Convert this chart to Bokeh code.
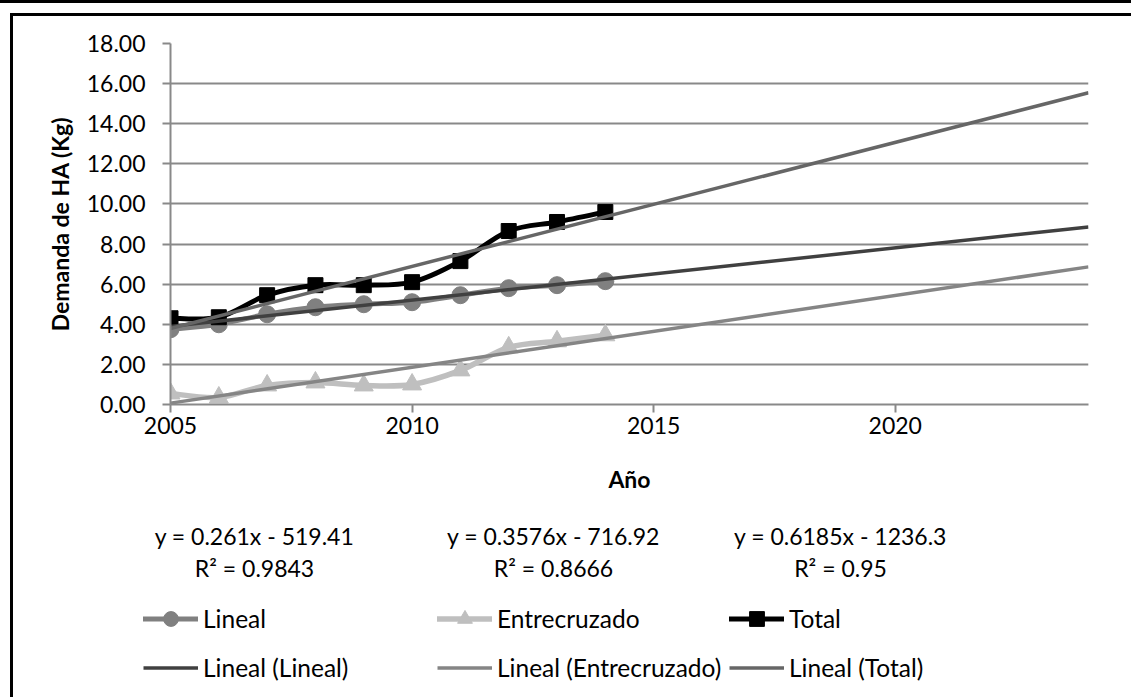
from bokeh.plotting import figure
from bokeh.layouts import column
from bokeh.models import (Range1d, FixedTicker, NumeralTickFormatter, Legend, LegendItem,
                          Label)
from bokeh.embed import file_html
from bokeh.resources import INLINE

# ---- data -------------------------------------------------------------
years = [2005, 2006, 2007, 2008, 2009, 2010, 2011, 2012, 2013, 2014]
lineal = [3.75, 4.00, 4.50, 4.85, 5.00, 5.10, 5.45, 5.80, 5.95, 6.15]
entrecruzado = [0.55, 0.35, 0.95, 1.10, 0.95, 1.00, 1.70, 2.85, 3.15, 3.45]
total = [4.30, 4.35, 5.45, 5.95, 5.95, 6.10, 7.15, 8.65, 9.10, 9.60]

# linear trend coefficients (slope, intercept) and R^2 per series
trend_slopes = [0.261, 0.3576, 0.6185]
trend_intercepts = [-519.41, -716.92, -1236.3]
trend_r2 = ["0.9843", "0.8666", "0.95"]
trend_span = [2005, 2024]

x_ticks = [2005, 2010, 2015, 2020]
y_ticks = [0, 2, 4, 6, 8, 10, 12, 14, 16, 18]

FONT = "Lato"
FS = "23px"
FS_LEGEND = "24.5px"
GRID = "#898989"

# page geometry (window pixels)
PAGE_W, PAGE_H = 1131, 697
INSET_X, INSET_Y = 13, 16          # inside the page frame
CHART_BOTTOM = 500                 # where the notes / legend strip starts

p = figure(width=PAGE_W - INSET_X, height=CHART_BOTTOM - INSET_Y,
           x_range=Range1d(2005, 2024), y_range=Range1d(0, 18),
           output_backend="svg", toolbar_location=None,
           min_border_left=170 - INSET_X, min_border_right=43,
           min_border_top=43 - INSET_Y, min_border_bottom=CHART_BOTTOM - 404)
p.frame_align = False
p.outline_line_color = None
p.background_fill_color = "white"
p.border_fill_color = "white"

# ---- axes & grid -------------------------------------------------------
p.xgrid.visible = False
p.ygrid.grid_line_color = GRID
p.ygrid.grid_line_width = 2
p.ygrid.ticker = FixedTicker(ticks=y_ticks)

for ax in (p.xaxis[0], p.yaxis[0]):
    ax.axis_line_color = GRID
    ax.axis_line_width = 2
    ax.major_tick_line_color = GRID
    ax.major_tick_line_width = 2
    ax.major_tick_out = 8
    ax.major_tick_in = 0
    ax.minor_tick_line_color = None
    ax.major_label_text_font = FONT
    ax.major_label_text_font_size = FS
    ax.major_label_text_color = "black"
    ax.axis_label_text_font = FONT
    ax.axis_label_text_font_size = FS
    ax.axis_label_text_font_style = "bold"
    ax.axis_label_text_color = "black"

p.xaxis.ticker = FixedTicker(ticks=x_ticks)
p.xaxis.major_label_standoff = 4
p.xaxis.axis_label = "Año"
p.xaxis.axis_label_standoff = 28

p.yaxis.ticker = FixedTicker(ticks=y_ticks)
p.yaxis.formatter = NumeralTickFormatter(format="0.00")
p.yaxis.major_label_standoff = 17
p.yaxis.axis_label = "Demanda de HA (Kg)"
p.yaxis.axis_label_standoff = 10


# ---- smoothed series ---------------------------------------------------
def smooth_segments(xs, ys):
    """Cubic Bezier pieces through the points (Catmull-Rom style)."""
    n = len(xs)
    seg = dict(x0=[], y0=[], x1=[], y1=[], cx0=[], cy0=[], cx1=[], cy1=[])
    for i in range(n - 1):
        a = max(i - 1, 0)
        d = min(i + 2, n - 1)
        seg["x0"].append(xs[i]); seg["y0"].append(ys[i])
        seg["x1"].append(xs[i + 1]); seg["y1"].append(ys[i + 1])
        seg["cx0"].append(xs[i] + (xs[i + 1] - xs[a]) / 6)
        seg["cy0"].append(ys[i] + (ys[i + 1] - ys[a]) / 6)
        seg["cx1"].append(xs[i + 1] - (xs[d] - xs[i]) / 6)
        seg["cy1"].append(ys[i + 1] - (ys[d] - ys[i]) / 6)
    return seg


series = [
    ("Lineal", lineal, "#808080", "circle", 17, 5),
    ("Entrecruzado", entrecruzado, "#bfbfbf", "triangle", 19, 5.5),
    ("Total", total, "#000000", "square", 15, 5),
]

for name, vals, color, marker, size, lw in series:
    s = smooth_segments(years, vals)
    p.bezier(x0="x0", y0="y0", x1="x1", y1="y1", cx0="cx0", cy0="cy0",
             cx1="cx1", cy1="cy1", source=s, line_color=color, line_width=lw,
             line_cap="round")
    p.scatter(years, vals, marker=marker, size=size, fill_color=color,
              line_color=color)

# ---- trend lines (drawn above the series) ------------------------------
trend_colors = ["#404040", "#858585", "#666666"]
trend_width = 3.5
for m, b, c in zip(trend_slopes, trend_intercepts, trend_colors):
    ys = [m * x + b for x in trend_span]
    p.line(trend_span, ys, line_color=c, line_width=trend_width)

# ---- strip under the chart: trend equations and legend -----------------
notes = figure(width=PAGE_W - INSET_X, height=PAGE_H - CHART_BOTTOM,
               x_range=Range1d(INSET_X, PAGE_W), y_range=Range1d(PAGE_H, CHART_BOTTOM),
               output_backend="svg", toolbar_location=None,
               x_axis_location=None, y_axis_location=None, min_border=0)
notes.frame_align = False
notes.grid.visible = False
notes.outline_line_color = None
notes.background_fill_color = "white"
notes.border_fill_color = "white"

eq_x = [254, 553, 840]
for xc, m, b, r2 in zip(eq_x, trend_slopes, trend_intercepts, trend_r2):
    sign = "-" if b < 0 else "+"
    eq = f"y = {m:g}x {sign} {abs(b):g}"
    for txt, yy in ((eq, 535), (f"R² = {r2}", 567)):
        notes.add_layout(Label(x=xc, y=yy, text=txt,
                               text_font=FONT, text_font_size=FS, text_color="black",
                               text_align="center", text_baseline="middle"))

# legend swatches, styled like the chart's glyphs (no visible points of their own)
nan = float("nan")
leg_x = [143, 437, 729]
for lx, (name, _, color, marker, size, lw), tc in zip(leg_x, series, trend_colors):
    sl = notes.line(x=[nan], y=[nan], line_color=color, line_width=lw, line_cap="round")
    sm = notes.scatter(x=[nan], y=[nan], marker=marker, fill_color=color, line_color=color)
    tl = notes.line(x=[nan], y=[nan], line_color=tc, line_width=trend_width)
    leg = Legend(items=[LegendItem(label=name, renderers=[sl, sm]),
                        LegendItem(label=f"Lineal ({name})", renderers=[tl])],
                 location=(lx - INSET_X, 11), orientation="vertical",
                 glyph_width=55, glyph_height=37, label_height=37, spacing=12,
                 label_standoff=5, padding=0, margin=0,
                 border_line_color=None, background_fill_alpha=0,
                 label_text_font=FONT, label_text_font_size=FS_LEGEND,
                 label_text_color="black")
    notes.add_layout(leg, "center")

# ---- page with its frame ---------------------------------------------
inner = column(p, notes, spacing=0,
               styles={"border-left": "3px solid black", "border-top": "3px solid black",
                       "background": "white"})
page = column(inner, spacing=0,
              styles={"border-top": "3px solid black", "padding-top": "10px",
                      "padding-left": "10px", "background": "white"})

open("out.html", "w").write(file_html(page, INLINE))
